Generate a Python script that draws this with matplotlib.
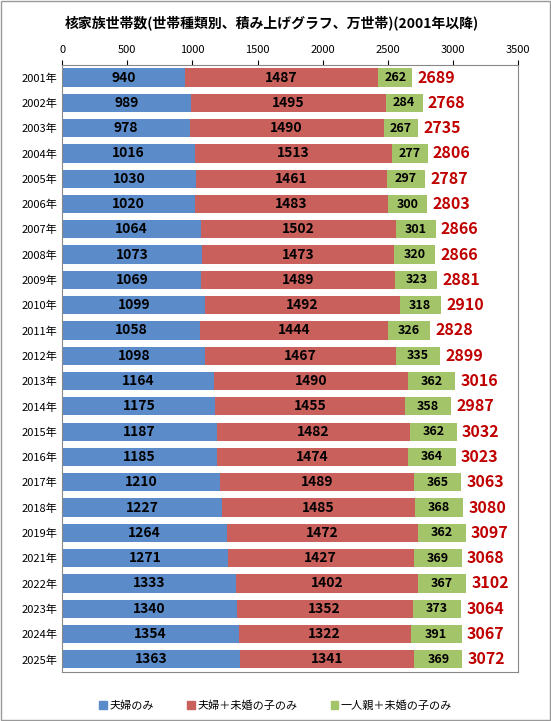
import matplotlib
matplotlib.use("Agg")
import matplotlib.pyplot as plt
from matplotlib.patches import Patch

plt.rcParams['font.family'] = ['Noto Sans CJK JP', 'DejaVu Sans']

years = [str(y) + "年" for y in list(range(2001, 2020)) + list(range(2021, 2026))]
couple = [940, 989, 978, 1016, 1030, 1020, 1064, 1073, 1069, 1099, 1058, 1098, 1164,
          1175, 1187, 1185, 1210, 1227, 1264, 1271, 1333, 1340, 1354, 1363]
couple_kids = [1487, 1495, 1490, 1513, 1461, 1483, 1502, 1473, 1489, 1492, 1444, 1467, 1490,
               1455, 1482, 1474, 1489, 1485, 1472, 1427, 1402, 1352, 1322, 1341]
single_kids = [262, 284, 267, 277, 297, 300, 301, 320, 323, 318, 326, 335, 362,
               358, 362, 364, 365, 368, 362, 369, 367, 373, 391, 369]
totals = [2689, 2768, 2735, 2806, 2787, 2803, 2866, 2866, 2881, 2910, 2828, 2899, 3016,
          2987, 3032, 3023, 3063, 3080, 3097, 3068, 3102, 3064, 3067, 3072]

blue = "#5B8BC9"
red = "#C9605C"
green = "#A4C46A"

fig = plt.figure(figsize=(5.51, 7.21), dpi=100)
ax = fig.add_axes([0.113, 0.068, 0.827, 0.842])
n = len(couple)
pos = list(range(n))
h = 0.72
ax.barh(pos, couple, height=h, color=blue)
ax.barh(pos, couple_kids, left=couple, height=h, color=red)
left2 = [a + b for a, b in zip(couple, couple_kids)]
ax.barh(pos, single_kids, left=left2, height=h, color=green)
for i in pos:
    ax.text(couple[i] / 2, i, str(couple[i]), ha="center", va="center", fontsize=10, fontweight="bold")
    ax.text(couple[i] + couple_kids[i] / 2, i, str(couple_kids[i]), ha="center", va="center", fontsize=10, fontweight="bold")
    ax.text(left2[i] + single_kids[i] / 2, i, str(single_kids[i]), ha="center", va="center", fontsize=9, fontweight="bold")
    ax.text(left2[i] + single_kids[i] + 40, i, str(totals[i]), ha="left", va="center",
            fontsize=11.5, fontweight="bold", color="#C00000")
ax.set_xlim(0, 3500)
ax.set_ylim(n - 0.5, -0.5)
ax.set_yticks(pos)
ax.set_yticklabels(years, fontsize=8)
ax.xaxis.tick_top()
ax.set_xticks(range(0, 3501, 500))
ax.tick_params(axis="x", labelsize=8)
ax.tick_params(axis="y", length=0)
for s in ax.spines.values():
    s.set_color("#888888")
fig.text(0.118, 0.968, "核家族世帯数(世帯種類別、積み上げグラフ、万世帯)(2001年以降)", fontsize=10, fontweight="bold", va="center")
fig.legend(handles=[Patch(color=blue, label="夫婦のみ"), Patch(color=red, label="夫婦＋未婚の子のみ"),
                    Patch(color=green, label="一人親＋未婚の子のみ")],
           loc="lower center", bbox_to_anchor=(0.5, 0.0), ncol=3, frameon=False, fontsize=8,
           handlelength=0.7, handleheight=0.7, handletextpad=0.2, columnspacing=3)
fig.patches.append(plt.Rectangle((0.002, 0.002), 0.996, 0.996, transform=fig.transFigure,
                                 fill=False, edgecolor="#999999", lw=1))
fig.savefig("out.png", dpi=100)
